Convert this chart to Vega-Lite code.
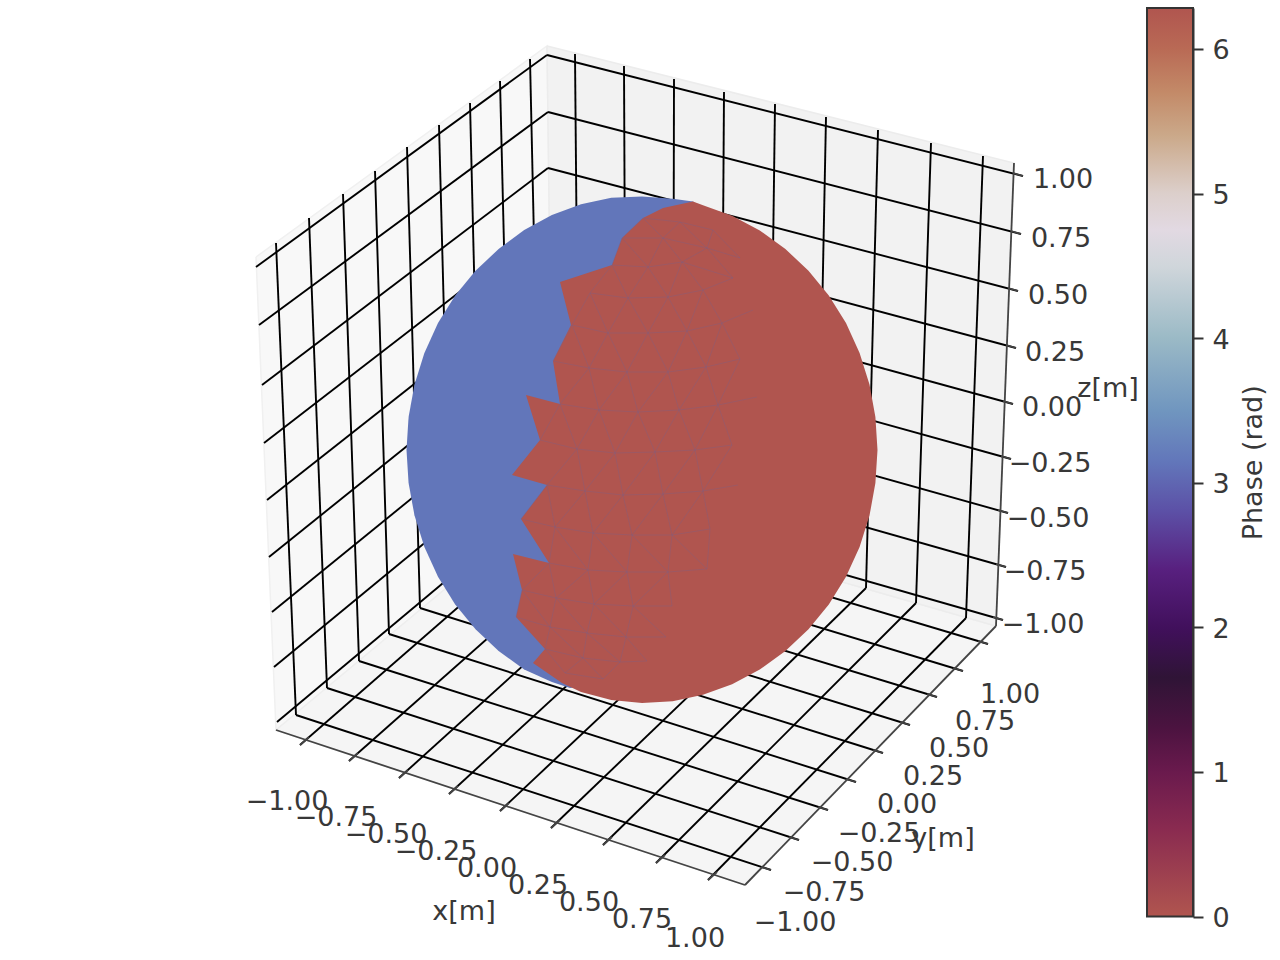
{"$schema":"https://vega.github.io/schema/vega-lite/v6.json","width":1280,"height":960,"padding":0,"autosize":{"type":"none"},"background":"white","config":{"view":{"stroke":null},"text":{"font":"DejaVu Sans"}},
"datasets":{
"panes":[
{"pane":"left","i":0,"u":256,"v":257},{"pane":"left","i":1,"u":547,"v":46},{"pane":"left","i":2,"u":553,"v":499},{"pane":"left","i":3,"u":276,"v":730},{"pane":"left","i":4,"u":256,"v":257},
{"pane":"back","i":0,"u":547,"v":46},{"pane":"back","i":1,"u":1014,"v":163},{"pane":"back","i":2,"u":996,"v":626},{"pane":"back","i":3,"u":553,"v":499},{"pane":"back","i":4,"u":547,"v":46},
{"pane":"floor","i":0,"u":276,"v":730},{"pane":"floor","i":1,"u":745,"v":885},{"pane":"floor","i":2,"u":996,"v":626},{"pane":"floor","i":3,"u":553,"v":499},{"pane":"floor","i":4,"u":276,"v":730}],
"grid":[
{"u":256,"v":267,"u2":547,"v2":55},{"u":259,"v":325,"u2":548,"v2":112},{"u":262,"v":385,"u2":548,"v2":168},{"u":264,"v":443,"u2":549,"v2":223},{"u":267,"v":500,"u2":550,"v2":277},{"u":269,"v":557,"u2":550,"v2":331},{"u":272,"v":612,"u2":551,"v2":385},{"u":274,"v":667,"u2":552,"v2":438},{"u":277,"v":722,"u2":553,"v2":491},
{"u":547,"v":55,"u2":1023,"v2":176},{"u":548,"v":112,"u2":1021,"v2":234},{"u":548,"v":168,"u2":1018,"v2":291},{"u":549,"v":223,"u2":1016,"v2":348},{"u":550,"v":277,"u2":1013,"v2":404},{"u":550,"v":331,"u2":1011,"v2":459},{"u":551,"v":385,"u2":1008,"v2":513},{"u":552,"v":438,"u2":1006,"v2":567},{"u":553,"v":491,"u2":1003,"v2":620},
{"u":276,"v":243,"u2":296,"v2":715},{"u":309,"v":218,"u2":327,"v2":688},{"u":343,"v":194,"u2":359,"v2":661},{"u":375,"v":171,"u2":389,"v2":634},{"u":407,"v":147,"u2":420,"v2":608},{"u":439,"v":125,"u2":451,"v2":583},{"u":470,"v":103,"u2":481,"v2":558},{"u":500,"v":81,"u2":511,"v2":534},{"u":530,"v":59,"u2":540,"v2":510},
{"u":575,"v":54,"u2":579,"v2":502},{"u":624,"v":66,"u2":626,"v2":516},{"u":674,"v":79,"u2":673,"v2":530},{"u":724,"v":92,"u2":721,"v2":544},{"u":775,"v":104,"u2":769,"v2":558},{"u":826,"v":117,"u2":817,"v2":573},{"u":878,"v":130,"u2":866,"v2":588},{"u":931,"v":143,"u2":916,"v2":603},{"u":983,"v":156,"u2":966,"v2":618},
{"u":296,"v":715,"u2":771,"v2":870},{"u":327,"v":688,"u2":799,"v2":840},{"u":359,"v":661,"u2":828,"v2":810},{"u":389,"v":634,"u2":856,"v2":782},{"u":420,"v":608,"u2":883,"v2":753},{"u":451,"v":583,"u2":910,"v2":725},{"u":481,"v":558,"u2":937,"v2":697},{"u":511,"v":534,"u2":963,"v2":671},{"u":540,"v":510,"u2":988,"v2":644},
{"u":579,"v":502,"u2":300,"v2":745},{"u":626,"v":516,"u2":349,"v2":761},{"u":673,"v":530,"u2":399,"v2":778},{"u":721,"v":544,"u2":449,"v2":794},{"u":769,"v":558,"u2":500,"v2":811},{"u":817,"v":573,"u2":551,"v2":828},{"u":866,"v":588,"u2":603,"v2":845},{"u":916,"v":603,"u2":656,"v2":863},{"u":966,"v":618,"u2":708,"v2":880}],
"ticks":[
{"u":300,"v":745,"u2":309,"v2":737},{"u":349,"v":761,"u2":358,"v2":753},{"u":399,"v":778,"u2":408,"v2":770},{"u":449,"v":794,"u2":458,"v2":786},{"u":500,"v":811,"u2":509,"v2":803},{"u":551,"v":828,"u2":560,"v2":820},{"u":603,"v":845,"u2":612,"v2":837},{"u":656,"v":863,"u2":665,"v2":855},{"u":708,"v":880,"u2":717,"v2":872},
{"u":771,"v":870,"u2":761,"v2":867},{"u":799,"v":840,"u2":789,"v2":837},{"u":828,"v":810,"u2":818,"v2":807},{"u":856,"v":782,"u2":846,"v2":779},{"u":883,"v":753,"u2":873,"v2":750},{"u":910,"v":725,"u2":900,"v2":722},{"u":937,"v":697,"u2":927,"v2":694},{"u":963,"v":671,"u2":953,"v2":668},{"u":988,"v":644,"u2":978,"v2":641},
{"u":1023,"v":176,"u2":1013,"v2":173},{"u":1021,"v":234,"u2":1011,"v2":231},{"u":1018,"v":291,"u2":1008,"v2":288},{"u":1016,"v":348,"u2":1006,"v2":345},{"u":1013,"v":404,"u2":1003,"v2":401},{"u":1011,"v":459,"u2":1001,"v2":456},{"u":1008,"v":513,"u2":998,"v2":510},{"u":1006,"v":567,"u2":996,"v2":564},{"u":1003,"v":620,"u2":993,"v2":617},
{"u":276,"v":730,"u2":745,"v2":885},{"u":745,"v":885,"u2":996,"v2":626},{"u":996,"v":626,"u2":1014,"v2":163}],
"labels":[
{"t":"1.00","u":1063,"v":178},{"t":"0.75","u":1061,"v":237},{"t":"0.50","u":1058,"v":294},{"t":"0.25","u":1055,"v":351},{"t":"0.00","u":1052,"v":406},{"t":"−0.25","u":1050,"v":462},{"t":"−0.50","u":1048,"v":517},{"t":"−0.75","u":1045,"v":570},{"t":"−1.00","u":1043,"v":623},
{"t":"−1.00","u":287,"v":800},{"t":"−0.75","u":336,"v":816},{"t":"−0.50","u":386,"v":833},{"t":"−0.25","u":436,"v":850},{"t":"0.00","u":487,"v":867},{"t":"0.25","u":538,"v":884},{"t":"0.50","u":589,"v":901},{"t":"0.75","u":642,"v":918},{"t":"1.00","u":695,"v":937},
{"t":"1.00","u":1010,"v":693},{"t":"0.75","u":985,"v":720},{"t":"0.50","u":959,"v":747},{"t":"0.25","u":933,"v":775},{"t":"0.00","u":907,"v":803},{"t":"−0.25","u":879,"v":832},{"t":"−0.50","u":852,"v":861},{"t":"−0.75","u":824,"v":891},{"t":"−1.00","u":795,"v":921},
{"t":"x[m]","u":464,"v":910},{"t":"y[m]","u":943,"v":837},{"t":"z[m]","u":1108,"v":387}],
"sphere":[
{"part":"blue","phase":3.14,"i":0,"u":693,"v":201.5},{"part":"blue","phase":3.14,"i":1,"u":672.7,"v":198.8},{"part":"blue","phase":3.14,"i":2,"u":642,"v":196.5},{"part":"blue","phase":3.14,"i":3,"u":611.3,"v":197.8},{"part":"blue","phase":3.14,"i":4,"u":581,"v":204.2},{"part":"blue","phase":3.14,"i":5,"u":551.9,"v":215},{"part":"blue","phase":3.14,"i":6,"u":524.2,"v":230},{"part":"blue","phase":3.14,"i":7,"u":498.6,"v":249},{"part":"blue","phase":3.14,"i":8,"u":475.5,"v":270.8},{"part":"blue","phase":3.14,"i":9,"u":455.2,"v":295.6},{"part":"blue","phase":3.14,"i":10,"u":438,"v":323},{"part":"blue","phase":3.14,"i":11,"u":424.4,"v":352.9},{"part":"blue","phase":3.14,"i":12,"u":414.5,"v":384.4},{"part":"blue","phase":3.14,"i":13,"u":408.6,"v":416.9},{"part":"blue","phase":3.14,"i":14,"u":406.5,"v":450},{"part":"blue","phase":3.14,"i":15,"u":408.6,"v":483.1},{"part":"blue","phase":3.14,"i":16,"u":414.5,"v":515.6},{"part":"blue","phase":3.14,"i":17,"u":424.4,"v":547.1},{"part":"blue","phase":3.14,"i":18,"u":438,"v":576.8},{"part":"blue","phase":3.14,"i":19,"u":455.2,"v":604.4},{"part":"blue","phase":3.14,"i":20,"u":475.5,"v":629.2},{"part":"blue","phase":3.14,"i":21,"u":498.6,"v":651},{"part":"blue","phase":3.14,"i":22,"u":524.2,"v":669.5},{"part":"blue","phase":3.14,"i":23,"u":551.9,"v":682},{"part":"blue","phase":3.14,"i":24,"u":570,"v":688},{"part":"blue","phase":3.14,"i":25,"u":640,"v":680},{"part":"blue","phase":3.14,"i":26,"u":800,"v":500},{"part":"blue","phase":3.14,"i":27,"u":800,"v":300},{"part":"blue","phase":3.14,"i":28,"u":693,"v":201.5},
{"part":"red","phase":0,"i":0,"u":693,"v":201.5},{"part":"red","phase":0,"i":1,"u":703,"v":205.2},{"part":"red","phase":0,"i":2,"u":732.1,"v":215.8},{"part":"red","phase":0,"i":3,"u":759.8,"v":230.5},{"part":"red","phase":0,"i":4,"u":785.4,"v":249},{"part":"red","phase":0,"i":5,"u":808.5,"v":270.8},{"part":"red","phase":0,"i":6,"u":828.8,"v":295.6},{"part":"red","phase":0,"i":7,"u":846,"v":323},{"part":"red","phase":0,"i":8,"u":859.6,"v":352.9},{"part":"red","phase":0,"i":9,"u":869.5,"v":384.4},{"part":"red","phase":0,"i":10,"u":875.4,"v":416.9},{"part":"red","phase":0,"i":11,"u":877.5,"v":450},{"part":"red","phase":0,"i":12,"u":875.4,"v":483.1},{"part":"red","phase":0,"i":13,"u":869.5,"v":515.6},{"part":"red","phase":0,"i":14,"u":859.6,"v":547.1},{"part":"red","phase":0,"i":15,"u":846,"v":576.8},{"part":"red","phase":0,"i":16,"u":828.8,"v":604.4},{"part":"red","phase":0,"i":17,"u":808.5,"v":629.2},{"part":"red","phase":0,"i":18,"u":785.4,"v":651},{"part":"red","phase":0,"i":19,"u":759.8,"v":669.5},{"part":"red","phase":0,"i":20,"u":732.1,"v":684.2},{"part":"red","phase":0,"i":21,"u":703,"v":694.8},{"part":"red","phase":0,"i":22,"u":672.7,"v":701.2},{"part":"red","phase":0,"i":23,"u":642,"v":703},{"part":"red","phase":0,"i":24,"u":611.3,"v":700},{"part":"red","phase":0,"i":25,"u":581,"v":692},{"part":"red","phase":0,"i":26,"u":562,"v":683},{"part":"red","phase":0,"i":27,"u":533,"v":663},{"part":"red","phase":0,"i":28,"u":545,"v":649},{"part":"red","phase":0,"i":29,"u":516,"v":617},{"part":"red","phase":0,"i":30,"u":522,"v":590},{"part":"red","phase":0,"i":31,"u":513,"v":554},{"part":"red","phase":0,"i":32,"u":549,"v":563},{"part":"red","phase":0,"i":33,"u":521,"v":519},{"part":"red","phase":0,"i":34,"u":547,"v":485},{"part":"red","phase":0,"i":35,"u":512,"v":475},{"part":"red","phase":0,"i":36,"u":540,"v":440},{"part":"red","phase":0,"i":37,"u":526,"v":395},{"part":"red","phase":0,"i":38,"u":560,"v":404},{"part":"red","phase":0,"i":39,"u":553,"v":361},{"part":"red","phase":0,"i":40,"u":571,"v":325},{"part":"red","phase":0,"i":41,"u":560,"v":282},{"part":"red","phase":0,"i":42,"u":612,"v":265},{"part":"red","phase":0,"i":43,"u":622,"v":238},{"part":"red","phase":0,"i":44,"u":643,"v":218},{"part":"red","phase":0,"i":45,"u":663,"v":208},{"part":"red","phase":0,"i":46,"u":693,"v":201.5}],
"mesh":[
{"l":"r0","i":0,"u":643,"v":218},{"l":"r0","i":1,"u":680,"v":222},{"l":"r0","i":2,"u":713,"v":230},
{"l":"r1","i":0,"u":622,"v":238},{"l":"r1","i":1,"u":663,"v":238},{"l":"r1","i":2,"u":707,"v":248},{"l":"r1","i":3,"u":740,"v":258},
{"l":"r2","i":0,"u":612,"v":265},{"l":"r2","i":1,"u":648,"v":267},{"l":"r2","i":2,"u":682,"v":262},{"l":"r2","i":3,"u":733,"v":278},
{"l":"r3","i":0,"u":590,"v":293},{"l":"r3","i":1,"u":628,"v":298},{"l":"r3","i":2,"u":668,"v":297},{"l":"r3","i":3,"u":703,"v":290},
{"l":"r4","i":0,"u":572,"v":325},{"l":"r4","i":1,"u":608,"v":333},{"l":"r4","i":2,"u":648,"v":333},{"l":"r4","i":3,"u":687,"v":331},{"l":"r4","i":4,"u":722,"v":323},{"l":"r4","i":5,"u":753,"v":310},
{"l":"r5","i":0,"u":553,"v":361},{"l":"r5","i":1,"u":589,"v":368},{"l":"r5","i":2,"u":627,"v":372},{"l":"r5","i":3,"u":668,"v":372},{"l":"r5","i":4,"u":706,"v":367},{"l":"r5","i":5,"u":740,"v":359},
{"l":"r6","i":0,"u":560,"v":404},{"l":"r6","i":1,"u":599,"v":410},{"l":"r6","i":2,"u":638,"v":412},{"l":"r6","i":3,"u":679,"v":410},{"l":"r6","i":4,"u":718,"v":405},{"l":"r6","i":5,"u":757,"v":397},
{"l":"r7","i":0,"u":540,"v":440},{"l":"r7","i":1,"u":577,"v":449},{"l":"r7","i":2,"u":615,"v":453},{"l":"r7","i":3,"u":655,"v":452},{"l":"r7","i":4,"u":695,"v":450},{"l":"r7","i":5,"u":732,"v":445},
{"l":"r8","i":0,"u":547,"v":485},{"l":"r8","i":1,"u":585,"v":491},{"l":"r8","i":2,"u":623,"v":495},{"l":"r8","i":3,"u":663,"v":494},{"l":"r8","i":4,"u":703,"v":491},{"l":"r8","i":5,"u":738,"v":485},
{"l":"r9","i":0,"u":521,"v":519},{"l":"r9","i":1,"u":555,"v":527},{"l":"r9","i":2,"u":593,"v":533},{"l":"r9","i":3,"u":632,"v":535},{"l":"r9","i":4,"u":672,"v":535},{"l":"r9","i":5,"u":710,"v":529},
{"l":"r10","i":0,"u":549,"v":563},{"l":"r10","i":1,"u":588,"v":570},{"l":"r10","i":2,"u":627,"v":572},{"l":"r10","i":3,"u":668,"v":572},{"l":"r10","i":4,"u":707,"v":569},
{"l":"r11","i":0,"u":522,"v":590},{"l":"r11","i":1,"u":556,"v":598},{"l":"r11","i":2,"u":594,"v":604},{"l":"r11","i":3,"u":633,"v":606},{"l":"r11","i":4,"u":672,"v":606},
{"l":"r12","i":0,"u":516,"v":617},{"l":"r12","i":1,"u":550,"v":627},{"l":"r12","i":2,"u":587,"v":633},{"l":"r12","i":3,"u":626,"v":637},{"l":"r12","i":4,"u":666,"v":637},
{"l":"r13","i":0,"u":545,"v":649},{"l":"r13","i":1,"u":583,"v":658},{"l":"r13","i":2,"u":620,"v":662},{"l":"r13","i":3,"u":647,"v":661},
{"l":"r14","i":0,"u":565,"v":673},{"l":"r14","i":1,"u":603,"v":679},
{"l":"z0","i":0,"u":622,"v":238},{"l":"z0","i":1,"u":643,"v":218},{"l":"z0","i":2,"u":663,"v":238},{"l":"z0","i":3,"u":680,"v":222},{"l":"z0","i":4,"u":707,"v":248},{"l":"z0","i":5,"u":713,"v":230},{"l":"z0","i":6,"u":740,"v":258},
{"l":"z1","i":0,"u":612,"v":265},{"l":"z1","i":1,"u":622,"v":238},{"l":"z1","i":2,"u":648,"v":267},{"l":"z1","i":3,"u":663,"v":238},{"l":"z1","i":4,"u":682,"v":262},{"l":"z1","i":5,"u":707,"v":248},{"l":"z1","i":6,"u":733,"v":278},
{"l":"z2","i":0,"u":590,"v":293},{"l":"z2","i":1,"u":612,"v":265},{"l":"z2","i":2,"u":628,"v":298},{"l":"z2","i":3,"u":648,"v":267},{"l":"z2","i":4,"u":668,"v":297},{"l":"z2","i":5,"u":682,"v":262},{"l":"z2","i":6,"u":703,"v":290},{"l":"z2","i":7,"u":733,"v":278},
{"l":"z3","i":0,"u":572,"v":325},{"l":"z3","i":1,"u":590,"v":293},{"l":"z3","i":2,"u":608,"v":333},{"l":"z3","i":3,"u":628,"v":298},{"l":"z3","i":4,"u":648,"v":333},{"l":"z3","i":5,"u":668,"v":297},{"l":"z3","i":6,"u":687,"v":331},{"l":"z3","i":7,"u":703,"v":290},{"l":"z3","i":8,"u":722,"v":323},
{"l":"z4","i":0,"u":553,"v":361},{"l":"z4","i":1,"u":572,"v":325},{"l":"z4","i":2,"u":589,"v":368},{"l":"z4","i":3,"u":608,"v":333},{"l":"z4","i":4,"u":627,"v":372},{"l":"z4","i":5,"u":648,"v":333},{"l":"z4","i":6,"u":668,"v":372},{"l":"z4","i":7,"u":687,"v":331},{"l":"z4","i":8,"u":706,"v":367},{"l":"z4","i":9,"u":722,"v":323},{"l":"z4","i":10,"u":740,"v":359},
{"l":"z5","i":0,"u":560,"v":404},{"l":"z5","i":1,"u":589,"v":368},{"l":"z5","i":2,"u":599,"v":410},{"l":"z5","i":3,"u":627,"v":372},{"l":"z5","i":4,"u":638,"v":412},{"l":"z5","i":5,"u":668,"v":372},{"l":"z5","i":6,"u":679,"v":410},{"l":"z5","i":7,"u":706,"v":367},{"l":"z5","i":8,"u":718,"v":405},{"l":"z5","i":9,"u":740,"v":359},
{"l":"z6","i":0,"u":540,"v":440},{"l":"z6","i":1,"u":560,"v":404},{"l":"z6","i":2,"u":577,"v":449},{"l":"z6","i":3,"u":599,"v":410},{"l":"z6","i":4,"u":615,"v":453},{"l":"z6","i":5,"u":638,"v":412},{"l":"z6","i":6,"u":655,"v":452},{"l":"z6","i":7,"u":679,"v":410},{"l":"z6","i":8,"u":695,"v":450},{"l":"z6","i":9,"u":718,"v":405},{"l":"z6","i":10,"u":732,"v":445},
{"l":"z7","i":0,"u":547,"v":485},{"l":"z7","i":1,"u":577,"v":449},{"l":"z7","i":2,"u":585,"v":491},{"l":"z7","i":3,"u":615,"v":453},{"l":"z7","i":4,"u":623,"v":495},{"l":"z7","i":5,"u":655,"v":452},{"l":"z7","i":6,"u":663,"v":494},{"l":"z7","i":7,"u":695,"v":450},{"l":"z7","i":8,"u":703,"v":491},{"l":"z7","i":9,"u":732,"v":445},
{"l":"z8","i":0,"u":521,"v":519},{"l":"z8","i":1,"u":547,"v":485},{"l":"z8","i":2,"u":555,"v":527},{"l":"z8","i":3,"u":585,"v":491},{"l":"z8","i":4,"u":593,"v":533},{"l":"z8","i":5,"u":623,"v":495},{"l":"z8","i":6,"u":632,"v":535},{"l":"z8","i":7,"u":663,"v":494},{"l":"z8","i":8,"u":672,"v":535},{"l":"z8","i":9,"u":703,"v":491},{"l":"z8","i":10,"u":710,"v":529},
{"l":"z9","i":0,"u":549,"v":563},{"l":"z9","i":1,"u":555,"v":527},{"l":"z9","i":2,"u":588,"v":570},{"l":"z9","i":3,"u":593,"v":533},{"l":"z9","i":4,"u":627,"v":572},{"l":"z9","i":5,"u":632,"v":535},{"l":"z9","i":6,"u":668,"v":572},{"l":"z9","i":7,"u":672,"v":535},{"l":"z9","i":8,"u":707,"v":569},{"l":"z9","i":9,"u":710,"v":529},
{"l":"z10","i":0,"u":522,"v":590},{"l":"z10","i":1,"u":549,"v":563},{"l":"z10","i":2,"u":556,"v":598},{"l":"z10","i":3,"u":588,"v":570},{"l":"z10","i":4,"u":594,"v":604},{"l":"z10","i":5,"u":627,"v":572},{"l":"z10","i":6,"u":633,"v":606},{"l":"z10","i":7,"u":668,"v":572},{"l":"z10","i":8,"u":672,"v":606},
{"l":"z11","i":0,"u":516,"v":617},{"l":"z11","i":1,"u":522,"v":590},{"l":"z11","i":2,"u":550,"v":627},{"l":"z11","i":3,"u":556,"v":598},{"l":"z11","i":4,"u":587,"v":633},{"l":"z11","i":5,"u":594,"v":604},{"l":"z11","i":6,"u":626,"v":637},{"l":"z11","i":7,"u":633,"v":606},{"l":"z11","i":8,"u":666,"v":637},
{"l":"z12","i":0,"u":545,"v":649},{"l":"z12","i":1,"u":550,"v":627},{"l":"z12","i":2,"u":583,"v":658},{"l":"z12","i":3,"u":587,"v":633},{"l":"z12","i":4,"u":620,"v":662},{"l":"z12","i":5,"u":626,"v":637},{"l":"z12","i":6,"u":647,"v":661},
{"l":"z13","i":0,"u":545,"v":649},{"l":"z13","i":1,"u":565,"v":673},{"l":"z13","i":2,"u":583,"v":658},{"l":"z13","i":3,"u":603,"v":679},{"l":"z13","i":4,"u":620,"v":662}],
"bar":[{"a":0,"b":6.283}]
},
"layer":[
{"encoding":{"x":{"field":"u","type":"quantitative","scale":{"domain":[0,1280],"nice":false,"zero":false},"axis":null},"y":{"field":"v","type":"quantitative","scale":{"domain":[960,0],"nice":false,"zero":false},"axis":null}},
"layer":[
{"data":{"name":"panes"},"transform":[{"filter":"datum.pane==='left'"}],"mark":{"type":"line","fill":"#f8f8f8","stroke":"#f0f0f0","strokeWidth":1.5},"encoding":{"order":{"field":"i","type":"quantitative"}}},
{"data":{"name":"panes"},"transform":[{"filter":"datum.pane==='floor'"}],"mark":{"type":"line","fill":"#f5f5f5","stroke":"#eeeeee","strokeWidth":1.5},"encoding":{"order":{"field":"i","type":"quantitative"}}},
{"data":{"name":"panes"},"transform":[{"filter":"datum.pane==='back'"}],"mark":{"type":"line","fill":"#f2f2f2","stroke":"#ececec","strokeWidth":1.5},"encoding":{"order":{"field":"i","type":"quantitative"}}},
{"data":{"name":"grid"},"mark":{"type":"rule","color":"#000000","strokeWidth":1.9},"encoding":{"x2":{"field":"u2"},"y2":{"field":"v2"}}},
{"data":{"name":"ticks"},"mark":{"type":"rule","color":"#444444","strokeWidth":1.8},"encoding":{"x2":{"field":"u2"},"y2":{"field":"v2"}}},
{"data":{"name":"labels"},"mark":{"type":"text","font":"DejaVu Sans","fontSize":27,"align":"center","baseline":"middle","dy":2,"color":"#383838"},"encoding":{"text":{"field":"t"}}},
{"data":{"name":"sphere"},"mark":{"type":"line","strokeWidth":0},"encoding":{"order":{"field":"i","type":"quantitative"},"detail":{"field":"part"},"fill":{"field":"phase","type":"quantitative","legend":null,"scale":{"domain":[0,0.6,1,1.3,1.65,2,2.4,2.8,3.14,3.5,4,4.5,4.75,5,5.4,5.7,6,6.283],"range":["#b0554f","#8a2b50","#6a1a4d","#4c1340","#2f1436","#41105c","#58207f","#5c50a6","#6276ba","#7096bf","#9bbac6","#d0d6db","#e2d9e2","#dccfcb","#cba98a","#c38a68","#b96a55","#b0554f"]}}}},
{"data":{"name":"mesh"},"mark":{"type":"line","color":"#75608c","strokeWidth":0.8,"opacity":0.42},"encoding":{"order":{"field":"i","type":"quantitative"},"detail":{"field":"l"}}}
]},
{"data":{"name":"bar"},"mark":{"type":"rect","opacity":1,"stroke":"#333333","strokeWidth":2,"fill":{"gradient":"linear","x1":0,"y1":1,"x2":0,"y2":0,"stops":[{"offset":0,"color":"#b0554f"},{"offset":0.0955,"color":"#8a2b50"},{"offset":0.159,"color":"#6a1a4d"},{"offset":0.207,"color":"#4c1340"},{"offset":0.263,"color":"#2f1436"},{"offset":0.318,"color":"#41105c"},{"offset":0.382,"color":"#58207f"},{"offset":0.446,"color":"#5c50a6"},{"offset":0.5,"color":"#6276ba"},{"offset":0.557,"color":"#7096bf"},{"offset":0.637,"color":"#9bbac6"},{"offset":0.716,"color":"#d0d6db"},{"offset":0.756,"color":"#e2d9e2"},{"offset":0.796,"color":"#dccfcb"},{"offset":0.859,"color":"#cba98a"},{"offset":0.907,"color":"#c38a68"},{"offset":0.955,"color":"#b96a55"},{"offset":1,"color":"#b0554f"}]}},
"encoding":{"x":{"datum":0,"type":"quantitative","scale":{"domain":[0,1],"range":[1147,1193],"nice":false,"zero":false},"axis":null},"x2":{"datum":1},
"y":{"field":"a","type":"quantitative","scale":{"domain":[0,6.283],"range":[916.5,8],"nice":false,"zero":false},
"axis":{"orient":"right","offset":-87,"values":[0,1,2,3,4,5,6],"format":"d","grid":false,"domainColor":"#333333","domainWidth":2,"tickColor":"#333333","tickWidth":2,"tickSize":10,"labelFont":"DejaVu Sans","labelFontSize":27,"labelColor":"#383838","labelPadding":9,"labelOffset":2,"title":"Phase (rad)","titleFont":"DejaVu Sans","titleFontSize":27,"titleFontWeight":"normal","titleColor":"#383838","titleAngle":-90,"titlePadding":38}},"y2":{"field":"b"}}}
],
"resolve":{"scale":{"x":"independent","y":"independent","fill":"independent"}}}
